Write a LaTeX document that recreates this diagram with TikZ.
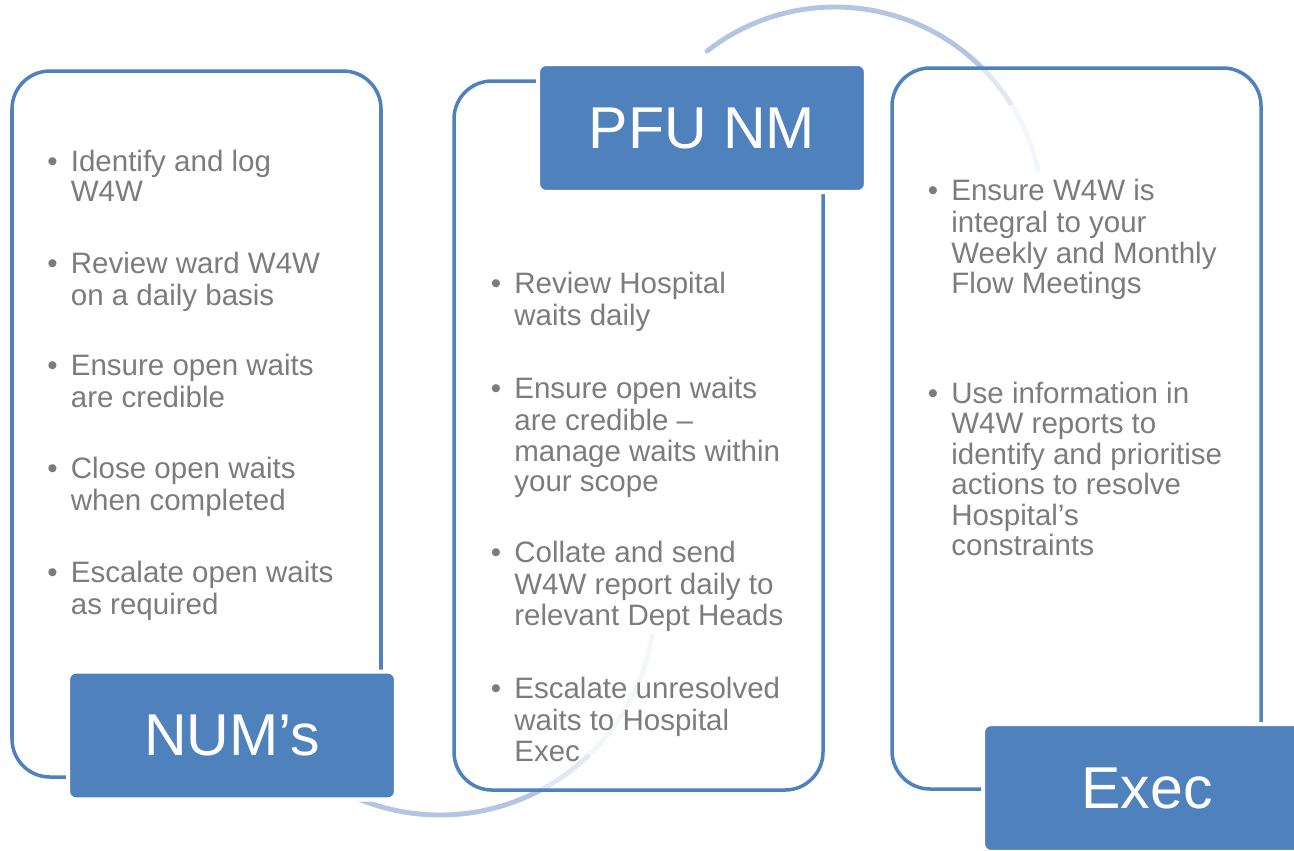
\documentclass[tikz,border=0pt]{standalone}
\usepackage{fontspec}
\setmainfont{Liberation Sans}
\definecolor{boxblue}{RGB}{79,129,189}
\definecolor{arcblue}{RGB}{180,197,228}
\definecolor{textgray}{RGB}{124,124,124}

\begin{document}
\begin{tikzpicture}[x=0.02cm, y=-0.02cm,
    panel/.style={draw=boxblue, line width=2pt, rounded corners=0.76cm},
    titlebox/.style={rectangle, fill=boxblue, draw=white, line width=2.3pt, rounded corners=0.16cm,
        minimum width=6.56cm, minimum height=2.56cm, inner sep=0pt, text=white,
        font=\fontsize{33.6}{36}\selectfont},
    item/.style={anchor=north west, inner sep=0pt, align=left, text=textgray,
        font=\fontsize{16.8}{17.35}\selectfont},
    ringarc/.style={line width=2.8pt}]

    % Page
    \useasboundingbox (0,0) rectangle (1294,850);
    \clip (0,0) rectangle (1294,850);

    % Background ring - top part, fading into the Exec panel
    \draw[ringarc, arcblue, line cap=round] (835,215) ++(-128:208) arc[start angle=-128, end angle=-45, radius=208];
    \draw[ringarc, arcblue!40] (835,215) ++(-45:208) arc[start angle=-45, end angle=-32, radius=208];
    \draw[ringarc, arcblue!16] (835,215) ++(-32:208) arc[start angle=-32, end angle=-12, radius=208];

    % Background ring - bottom part, fading into the PFU NM panel
    \draw[ringarc, arcblue] (440,600) ++(115:215) arc[start angle=115, end angle=62, radius=215];
    \draw[ringarc, arcblue!40] (440,600) ++(62:215) arc[start angle=62, end angle=46, radius=215];
    \draw[ringarc, arcblue!16] (440,600) ++(46:215) arc[start angle=46, end angle=9, radius=215];

    % Panels
    \draw[panel] (12,71) rectangle (381,777);
    \draw[panel] (454,81) rectangle (823,790);
    \draw[panel] (892,68) rectangle (1261,789);

    % Title boxes (white edge hides the panel line behind)
    \node[titlebox] (NUM) at (232,735.5) {NUM’s};
    \node[titlebox] (PFU) at (702,128) {PFU NM};
    \node[titlebox] (EXEC) at (1147,788) {Exec};

    % NUM's tasks
    \node[item] (N1) at (70.5,149.6) {\llap{\textbullet\hspace{7.5pt}}\strut Identify and log\\W4W};
    \node[item] (N2) at (70.5,251.6) {\llap{\textbullet\hspace{7.5pt}}\strut Review ward W4W\\on a daily basis};
    \node[item] (N3) at (70.5,353.6) {\llap{\textbullet\hspace{7.5pt}}\strut Ensure open waits\\are credible};
    \node[item] (N4) at (70.5,456.6) {\llap{\textbullet\hspace{7.5pt}}\strut Close open waits\\when completed};
    \node[item] (N5) at (70.5,560.6) {\llap{\textbullet\hspace{7.5pt}}\strut Escalate open waits\\as required};

    % PFU NM tasks
    \node[item] (P1) at (514,271.6) {\llap{\textbullet\hspace{7.5pt}}\strut Review Hospital\\waits daily};
    \node[item] (P2) at (514,376.6) {\llap{\textbullet\hspace{7.5pt}}\strut Ensure open waits\\are credible –\\manage waits within\\your scope};
    \node[item] (P3) at (514,540.6) {\llap{\textbullet\hspace{7.5pt}}\strut Collate and send\\W4W report daily to\\relevant Dept Heads};
    \node[item] (P4) at (514,676.6) {\llap{\textbullet\hspace{7.5pt}}\strut Escalate unresolved\\waits to Hospital\\Exec};

    % Exec tasks
    \node[item] (X1) at (951,178.6) {\llap{\textbullet\hspace{7.5pt}}\strut Ensure W4W is\\integral to your\\Weekly and Monthly\\Flow Meetings};
    \node[item] (X2) at (951,381.6) {\llap{\textbullet\hspace{7.5pt}}\strut Use information in\\W4W reports to\\identify and prioritise\\actions to resolve\\Hospital’s\\constraints};

\end{tikzpicture}
\end{document}
